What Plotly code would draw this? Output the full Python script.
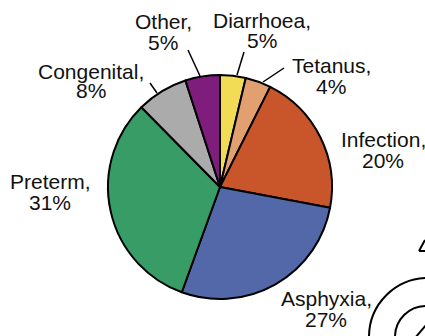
import plotly.graph_objects as go

W, H = 425, 336
categories = ["Diarrhoea", "Tetanus", "Infection", "Asphyxia", "Preterm", "Congenital", "Other"]
drawn_shares = [3.7, 3.7, 20.6, 27.6, 32.1, 7.4, 5.0]
label_values = [5, 4, 20, 27, 31, 8, 5]
colors = ["#F3DC55", "#E2A070", "#C8562A", "#5368A8", "#389C66", "#ABABAB", "#7E1D7C"]

fig = go.Figure(go.Pie(
    labels=categories, values=drawn_shares, sort=False, direction="clockwise", rotation=0,
    marker=dict(colors=colors, line=dict(color="black", width=2)),
    textinfo="none", hoverinfo="label+percent", showlegend=False,
    domain=dict(x=[108/W, 332/W], y=[(H-299)/H, (H-75)/H]),
))

# centre x, first line y, second line y
label_pos = {
    "Diarrhoea": (262, 20, 40), "Tetanus": (331, 66, 87), "Infection": (383, 139, 160),
    "Asphyxia": (326, 298, 319), "Preterm": (50, 181, 202), "Congenital": (91, 71, 91),
    "Other": (163, 22, 42),
}
font = dict(family="Liberation Sans, Arial, sans-serif", size=21, color="#111")
annotations = []
for c, v in zip(categories, label_values):
    x, y1, y2 = label_pos[c]
    for txt, y in ((f"{c},", y1), (f"{v}%", y2)):
        annotations.append(dict(x=x/W, y=1-y/H, xref="paper", yref="paper", xanchor="center", yanchor="middle",
                                text=txt, showarrow=False, font=font))

def line(x0, y0, x1, y1, w=1.5):
    return dict(type="line", xref="paper", yref="paper", x0=x0/W, y0=1-y0/H, x1=x1/W, y1=1-y1/H,
                line=dict(color="black", width=w))

def circle(cx, cy, r, w=2):
    return dict(type="circle", xref="paper", yref="paper", x0=(cx-r)/W, x1=(cx+r)/W,
                y0=1-(cy+r)/H, y1=1-(cy-r)/H, line=dict(color="black", width=w))

shapes = [
    line(188, 50, 200, 76), line(244, 52, 237, 75), line(284, 68, 263, 82),
    line(150, 83, 157, 93),
    circle(428, 337, 59, 2), circle(426, 337, 31, 2),
    line(426, 325, 415, 338, 2),
    line(425, 240, 419, 251, 2), line(419, 251, 426, 251, 2),
]

fig.update_layout(width=W, height=H, margin=dict(l=0, r=0, t=0, b=0), autosize=False,
                  paper_bgcolor="white", annotations=annotations, shapes=shapes)
fig.write_html("out.html", config=dict(displayModeBar=False),
               post_script="document.body.style.margin='0';document.body.style.overflow='hidden';")
